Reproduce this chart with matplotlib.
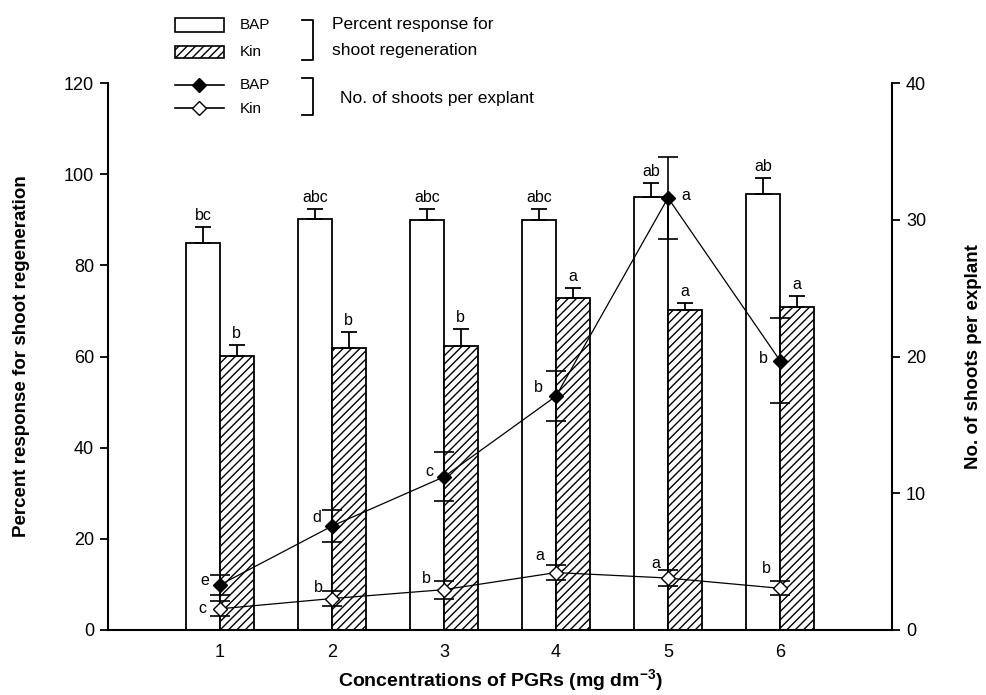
import numpy as np
import matplotlib
matplotlib.use("Agg")
import matplotlib.pyplot as plt
from matplotlib.patches import Rectangle
from matplotlib.lines import Line2D

plt.rcParams['font.family'] = ['Liberation Sans', 'DejaVu Sans']
plt.rcParams['mathtext.fontset'] = 'custom'
plt.rcParams['mathtext.rm'] = 'Liberation Sans'
plt.rcParams['mathtext.bf'] = 'Liberation Sans:bold'
plt.rcParams['hatch.linewidth'] = 1.0

# ---- data ----
concentrations = [1, 2, 3, 4, 5, 6]
bap_pct = [85.0, 90.1, 90.0, 90.0, 95.0, 95.7]
bap_pct_err = [3.3, 2.2, 2.3, 2.3, 3.0, 3.4]
bap_pct_letters = ['bc', 'abc', 'abc', 'abc', 'ab', 'ab']
kin_pct = [60.1, 61.9, 62.4, 72.9, 70.1, 70.9]
kin_pct_err = [2.4, 3.4, 3.6, 2.2, 1.7, 2.4]
kin_pct_letters = ['b', 'b', 'b', 'a', 'a', 'a']

bap_shoots = [3.3, 7.6, 11.2, 17.1, 31.6, 19.7]
bap_shoots_err = [0.75, 1.2, 1.8, 1.85, 3.0, 3.1]
bap_shoots_letters = ['e', 'd', 'c', 'b', 'a', 'b']
kin_shoots = [1.55, 2.3, 2.95, 4.2, 3.8, 3.05]
kin_shoots_err = [0.55, 0.55, 0.65, 0.55, 0.6, 0.5]
kin_shoots_letters = ['c', 'b', 'b', 'a', 'a', 'b']

left_ticks = [0, 20, 40, 60, 80, 100, 120]
right_ticks = [0, 10, 20, 30, 40]

# ---- figure ----
W, H = 987, 695
fig = plt.figure(figsize=(W / 100, H / 100), dpi=100)
ax = fig.add_axes([108 / W, 1 - 630 / H, (892 - 108) / W, (630 - 83) / H])

x = np.array(concentrations, dtype=float)
w = 0.30
zeros = np.zeros(len(x))
ekw = dict(elinewidth=1.3, capthick=1.3, ecolor='black')
ax.bar(x - w / 2, bap_pct, w, yerr=[zeros, bap_pct_err], facecolor='white',
       edgecolor='black', linewidth=1.3, capsize=6, error_kw=ekw, zorder=2)
ax.bar(x + w / 2, kin_pct, w, yerr=[zeros, kin_pct_err], facecolor='white',
       edgecolor='black', linewidth=1.3, hatch='////', capsize=6, error_kw=ekw, zorder=2)

for xi, v, e, t in zip(x - w / 2, bap_pct, bap_pct_err, bap_pct_letters):
    ax.annotate(t, (xi, v + e), xytext=(0, 4), textcoords='offset pixels',
                ha='center', va='bottom', fontsize=11.5)
for xi, v, e, t in zip(x + w / 2, kin_pct, kin_pct_err, kin_pct_letters):
    ax.annotate(t, (xi, v + e), xytext=(0, 4), textcoords='offset pixels',
                ha='center', va='bottom', fontsize=11.5)

ax.set_xlim(0, 7)
ax.set_ylim(0, 120)
ax.set_yticks(left_ticks)
ax.set_xticks(concentrations)
ax.tick_params(axis='x', length=0, labelsize=13, pad=10)
ax.tick_params(axis='y', length=6, width=1.3, direction='out', labelsize=13, pad=4)
ax.spines['top'].set_visible(False)
ax.spines['right'].set_visible(False)
for s in ['left', 'bottom']:
    ax.spines[s].set_linewidth(1.5)

ax.set_ylabel('Percent response for shoot regeneration', fontsize=13.5, fontweight='bold')
ax.yaxis.set_label_coords(-0.0995, 0.5)
ax.set_xlabel(r'Concentrations of PGRs (mg dm$^{\mathbf{-3}}$)', fontsize=14, fontweight='bold')
ax.xaxis.set_label_coords(0.5, -0.068)

ax2 = ax.twinx()
ax2.set_position(ax.get_position())
ax2.errorbar(x, kin_shoots, yerr=kin_shoots_err, fmt='-D', color='black', mfc='white',
             mec='black', ms=7, lw=0.9, elinewidth=1.2, capsize=7, capthick=1.2, zorder=3)
ax2.errorbar(x, bap_shoots, yerr=bap_shoots_err, fmt='-D', color='black', mfc='black',
             mec='black', ms=7, lw=0.9, elinewidth=1.2, capsize=7, capthick=1.2, zorder=4)
ax2.set_ylim(0, 40)
ax2.set_yticks(right_ticks)
ax2.tick_params(axis='y', length=6, width=1.3, direction='out', labelsize=13, pad=4)
ax2.spines['top'].set_visible(False)
ax2.spines['left'].set_visible(False)
ax2.spines['bottom'].set_visible(False)
ax2.spines['right'].set_linewidth(1.5)
ax2.set_ylabel('No. of shoots per explant', fontsize=13.5, fontweight='bold', rotation=90)
ax2.yaxis.set_label_coords(1.093, 0.5)

bap_off = [(-15, 4), (-15, 9), (-15, 5), (-18, 9), (18, 2), (-17, 2)]
kin_off = [(-18, 0), (-14, 11), (-18, 11), (-16, 17), (-12, 15), (-14, 20)]
for xi, v, t, o in zip(x, bap_shoots, bap_shoots_letters, bap_off):
    ax2.annotate(t, (xi, v), xytext=o, textcoords='offset pixels',
                 ha='center', va='center', fontsize=11.5)
for xi, v, t, o in zip(x, kin_shoots, kin_shoots_letters, kin_off):
    ax2.annotate(t, (xi, v), xytext=o, textcoords='offset pixels',
                 ha='center', va='center', fontsize=11.5)

# ---- custom legend (figure pixel coordinates) ----
def fx(px):
    return px / W


def fy(py):
    return 1 - py / H


fig.add_artist(Rectangle((fx(175), fy(32)), fx(224) - fx(175), fy(18) - fy(32),
                         facecolor='white', edgecolor='black', lw=1.2,
                         transform=fig.transFigure))
fig.add_artist(Rectangle((fx(175), fy(58)), fx(224) - fx(175), fy(46) - fy(58),
                         facecolor='white', edgecolor='black', lw=1.2, hatch='////',
                         transform=fig.transFigure))
fig.add_artist(Line2D([fx(175), fx(199.5), fx(224)], [fy(85)] * 3, color='black', lw=1.2,
                      marker='D', ms=7, mfc='black', markevery=[1], transform=fig.transFigure))
fig.add_artist(Line2D([fx(175), fx(199.5), fx(224)], [fy(108)] * 3, color='black', lw=1.2,
                      marker='D', ms=7, mfc='white', mec='black', markevery=[1],
                      transform=fig.transFigure))
for py, t in [(25, 'BAP'), (52, 'Kin'), (85, 'BAP'), (109, 'Kin')]:
    fig.text(fx(240), fy(py), t, fontsize=11, ha='left', va='center')

for (y0, y1) in [(20, 60), (78, 115)]:
    fig.add_artist(Line2D([fx(302), fx(313), fx(313), fx(302)],
                          [fy(y0), fy(y0), fy(y1), fy(y1)], color='black', lw=1.3,
                          transform=fig.transFigure))
fig.text(fx(332), fy(25), 'Percent response for', fontsize=12.5, ha='left', va='center')
fig.text(fx(332), fy(50), 'shoot regeneration', fontsize=12.5, ha='left', va='center')
fig.text(fx(340), fy(98), 'No. of shoots per explant', fontsize=12.5, ha='left', va='center')

fig.savefig('out.png', dpi=100)
